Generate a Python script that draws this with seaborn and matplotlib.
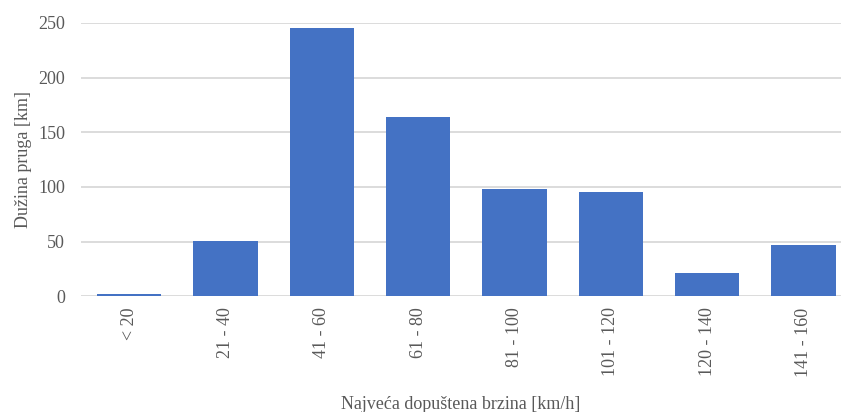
import pandas as pd
import matplotlib
matplotlib.use("Agg")
import matplotlib.pyplot as plt
import seaborn as sns

# speed classes and track lengths
categories = ["< 20", "21 - 40", "41 - 60", "61 - 80", "81 - 100", "101 - 120", "120 - 140", "141 - 160"]
lengths_km = [2, 51, 245.5, 164, 98, 95.5, 21, 47]

df = pd.DataFrame({"brzina": categories, "duzina": lengths_km})

sns.set_style("white")
plt.rcParams["font.family"] = ["Liberation Serif", "DejaVu Serif"]

fig = plt.figure(figsize=(8.41, 4.12), dpi=100)
ax = fig.add_axes([81 / 841, 1 - 296.3 / 412, (841 - 81) / 841, (296.3 - 23) / 412])

sns.barplot(data=df, x="brzina", y="duzina", color="#4472C4", width=0.667,
            saturation=1, ax=ax, zorder=3, linewidth=0)

ax.set_ylim(0, 250)
ax.set_xlim(-0.5, 7.39)
ax.set_yticks([0, 50, 100, 150, 200, 250])
ax.yaxis.grid(True, color="#D9D9D9", linewidth=1.3, zorder=0)
ax.set_axisbelow(True)
for s in ax.spines.values():
    s.set_visible(False)
ax.tick_params(axis="both", length=0, labelsize=13, labelcolor="#595959")
ax.tick_params(axis="y", pad=11.5)
ax.tick_params(axis="x", pad=8)
plt.setp(ax.get_xticklabels(), rotation=90)

ax.set_xlabel("Najveća dopuštena brzina [km/h]", fontsize=13, color="#595959", labelpad=14)
ax.set_ylabel("Dužina pruga [km]", fontsize=13, color="#595959", labelpad=4)

fig.savefig("out.png", dpi=100)
